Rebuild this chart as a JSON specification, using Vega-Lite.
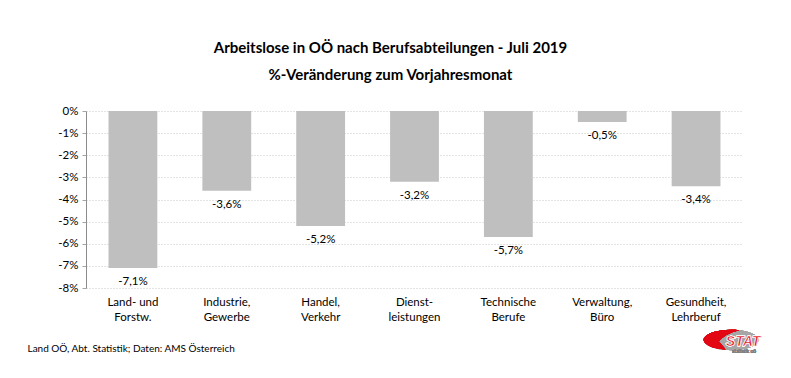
{
  "$schema": "https://vega.github.io/schema/vega-lite/v6.json",
  "width": 657,
  "height": 177,
  "autosize": {"type": "none"},
  "padding": {"left": 86, "top": 111, "right": 48, "bottom": 90},
  "background": "white",
  "title": {
    "text": ["Arbeitslose in OÖ nach Berufsabteilungen - Juli 2019", "%-Veränderung zum Vorjahresmonat"],
    "font": "Lato",
    "fontSize": 15,
    "fontWeight": "bold",
    "lineHeight": 27,
    "color": "#000000",
    "anchor": "middle",
    "frame": "group",
    "dx": -24,
    "offset": 22
  },
  "config": {
    "locale": {
      "number": {"decimal": ",", "thousands": ".", "grouping": [3], "currency": ["", " €"], "minus": "-", "percent": "%"}
    },
    "view": {"stroke": null},
    "font": "Lato"
  },
  "data": {
    "values": [
      {"Beruf": "Land- und\nForstw.", "Veraenderung": -0.071},
      {"Beruf": "Industrie,\nGewerbe", "Veraenderung": -0.036},
      {"Beruf": "Handel,\nVerkehr", "Veraenderung": -0.052},
      {"Beruf": "Dienst-\nleistungen", "Veraenderung": -0.032},
      {"Beruf": "Technische\nBerufe", "Veraenderung": -0.057},
      {"Beruf": "Verwaltung,\nBüro", "Veraenderung": -0.005},
      {"Beruf": "Gesundheit,\nLehrberuf", "Veraenderung": -0.034}
    ]
  },
  "encoding": {
    "x": {
      "field": "Beruf",
      "type": "nominal",
      "sort": null,
      "scale": {"paddingInner": 0.48, "paddingOuter": 0.24},
      "axis": {
        "orient": "bottom",
        "labelAngle": 0,
        "labelExpr": "split(datum.label, '\\n')",
        "labelFont": "Lato",
        "labelFontSize": 11.5,
        "labelColor": "#000000",
        "labelLineHeight": 15,
        "labelPadding": 8,
        "labelBaseline": "top",
        "ticks": false,
        "domain": false,
        "grid": false,
        "title": "Land OÖ, Abt. Statistik; Daten: AMS Österreich",
        "titleFont": "Lato",
        "titleFontSize": 10,
        "titleFontWeight": "normal",
        "titleColor": "#000000",
        "titleAlign": "left",
        "titleBaseline": "middle",
        "titleX": -59,
        "titleY": 60
      }
    },
    "y": {
      "field": "Veraenderung",
      "type": "quantitative",
      "scale": {"domain": [-0.08, 0], "nice": false, "zero": false},
      "axis": {
        "format": ".0%",
        "values": [0, -0.01, -0.02, -0.03, -0.04, -0.05, -0.06, -0.07, -0.08],
        "labelOverlap": false,
        "title": null,
        "labelFont": "Lato",
        "labelFontSize": 11.5,
        "labelColor": "#000000",
        "labelPadding": 4,
        "domain": true,
        "domainColor": "#8C8C8C",
        "ticks": true,
        "tickSize": 4,
        "tickColor": "#A6A6A6",
        "grid": true,
        "gridColor": "#C8C8C8",
        "gridDash": [1, 2],
        "gridWidth": 1
      }
    }
  },
  "layer": [
    {
      "mark": {"type": "bar", "color": "#BFBFBF"}
    },
    {
      "mark": {"type": "text", "baseline": "middle", "dy": 14, "fontSize": 11.5, "font": "Lato", "color": "#000000"},
      "encoding": {
        "text": {"field": "Veraenderung", "type": "quantitative", "format": ".1%"}
      }
    },
    {
      "mark": {"type": "point", "filled": true, "color": "#A6A6A6", "opacity": 1, "size": 3000, "shape": "M -1 0 A 1 0.37 0 1 0 1 0 A 1 0.37 0 1 0 -1 0 Z", "xOffset": 35},
      "encoding": {
        "x": {"datum": "Gesundheit,\nLehrberuf"},
        "y": {"datum": -0.1035}
      }
    },
    {
      "mark": {"type": "point", "filled": true, "color": "#E30613", "opacity": 1, "size": 3000, "shape": "M 0.3 -0.36 A 1 0.37 0 0 0 -1 0 A 1 0.37 0 0 0 -0.2 0.35 L -0.45 0.05 Q -0.2 -0.25 0.3 -0.36 Z", "xOffset": 35},
      "encoding": {
        "x": {"datum": "Gesundheit,\nLehrberuf"},
        "y": {"datum": -0.1035}
      }
    },
    {
      "mark": {"type": "text", "text": "STAT", "font": "Liberation Sans", "fontWeight": "bold", "fontStyle": "italic", "fontSize": 14, "color": "#E30613", "stroke": "white", "strokeWidth": 0.6, "xOffset": 47, "align": "center", "baseline": "middle"},
      "encoding": {
        "x": {"datum": "Gesundheit,\nLehrberuf"},
        "y": {"datum": -0.1045}
      }
    },
    {
      "mark": {"type": "text", "text": "statistik oö", "font": "Lato", "fontSize": 5, "color": "#808080", "xOffset": 48, "align": "center", "baseline": "middle"},
      "encoding": {
        "x": {"datum": "Gesundheit,\nLehrberuf"},
        "y": {"datum": -0.1085}
      }
    }
  ]
}
